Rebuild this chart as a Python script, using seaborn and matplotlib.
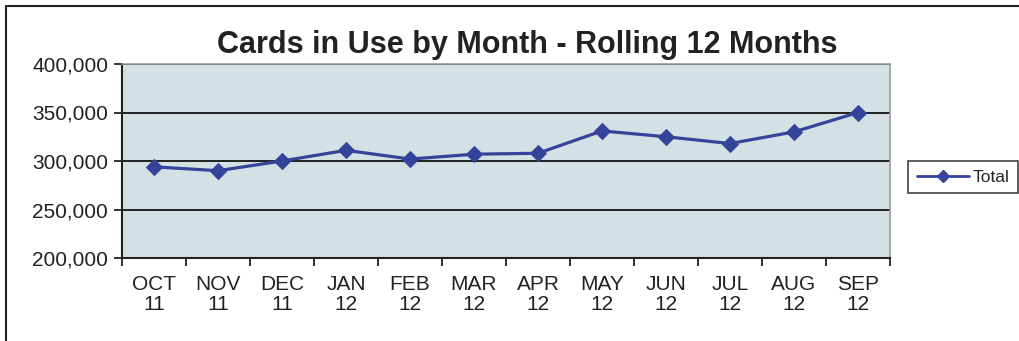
import matplotlib
matplotlib.use("Agg")
import matplotlib.pyplot as plt
import seaborn as sns
import pandas as pd
from matplotlib.lines import Line2D
from matplotlib.ticker import FuncFormatter, FixedLocator

months = ["OCT\n11", "NOV\n11", "DEC\n11", "JAN\n12", "FEB\n12", "MAR\n12",
          "APR\n12", "MAY\n12", "JUN\n12", "JUL\n12", "AUG\n12", "SEP\n12"]
totals = [294000, 290000, 300000, 311000, 302000, 307000,
          308000, 331000, 325000, 318000, 330000, 350000]
series_name = "Total"
title = "Cards in Use by Month - Rolling 12 Months"

sns.set_theme(style="white")
plt.rcParams['font.family'] = ['Liberation Sans', 'DejaVu Sans']

df = pd.DataFrame({"pos": range(len(months)), "value": totals, "series": series_name})

fig = plt.figure(figsize=(10.19, 3.41), dpi=100)
ax = fig.add_axes([122/1019, 1 - 258/341, (890-122)/1019, (258-64)/341])
ax.set_facecolor("#d4e1e4")

line_color = "#34449a"
sns.lineplot(data=df, x="pos", y="value", ax=ax, color=line_color, linewidth=2.3,
             marker="D", markersize=8.5, markeredgecolor=line_color,
             markerfacecolor=line_color, legend=False)

ax.set_xlim(-0.5, len(months) - 0.5)
ax.set_ylim(200000, 400000)
ax.set_yticks([200000, 250000, 300000, 350000, 400000])
ax.yaxis.set_major_formatter(FuncFormatter(lambda v, p: f"{int(v):,}"))
ax.grid(axis="y", color="#111111", linewidth=1.3)
ax.set_axisbelow(True)

# x ticks at category boundaries, labels at centers
ax.xaxis.set_major_locator(FixedLocator([i - 0.5 for i in range(len(months) + 1)]))
ax.xaxis.set_minor_locator(FixedLocator(list(range(len(months)))))
ax.set_xticklabels([""] * (len(months) + 1))
ax.set_xticklabels(months, minor=True)
ax.tick_params(axis="x", which="major", direction="out", length=6, width=1.3,
               color="#222222", bottom=True)
ax.tick_params(axis="x", which="minor", length=0, pad=12, labelsize=15,
               labelcolor="#222222")
ax.tick_params(axis="y", which="major", direction="out", length=6, width=1.3,
               color="#222222", left=True, labelsize=15, labelcolor="#222222", pad=4)
for lbl in ax.get_xticklabels(minor=True):
    lbl.set_linespacing(1.1)

ax.set_xlabel("")
ax.set_ylabel("")
for side in ["left", "bottom"]:
    ax.spines[side].set_color("#222222")
    ax.spines[side].set_linewidth(1.5)
for side in ["top", "right"]:
    ax.spines[side].set_color("#999999")
    ax.spines[side].set_linewidth(1.2)

fig.text(527/1019, 1 - 45/341, title, ha="center", va="center",
         fontsize=22, fontweight="bold", color="#222222")

handle = Line2D([], [], color=line_color, linewidth=2.0, marker="D", markersize=6,
                markerfacecolor=line_color, markeredgecolor=line_color)
leg = fig.legend([handle], [series_name], loc="center left",
                 bbox_to_anchor=(908/1019, 1 - 177/341), frameon=True, fancybox=False,
                 fontsize=12.5, handlelength=3.0, handletextpad=0.2,
                 borderpad=0.5, borderaxespad=0)
leg.get_frame().set_edgecolor("#111111")
leg.get_frame().set_linewidth(1.2)

# outer chart frame
fig.add_artist(Line2D([6/1019, 6/1019], [0, 1 - 6/341], transform=fig.transFigure,
                      color="#222222", linewidth=1.5))
fig.add_artist(Line2D([6/1019, 1], [1 - 6/341, 1 - 6/341], transform=fig.transFigure,
                      color="#222222", linewidth=1.5))

fig.savefig("out.png", dpi=100, facecolor="white")
